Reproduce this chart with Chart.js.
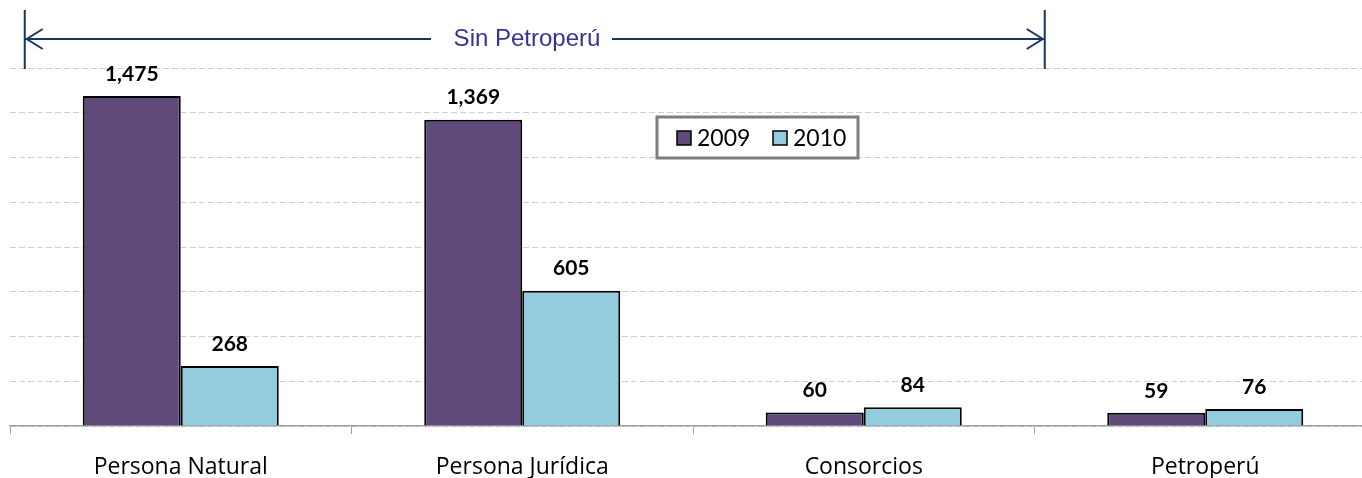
<!DOCTYPE html>
<html>
<head>
<meta charset="utf-8">
<script src="https://cdn.jsdelivr.net/npm/chart.js@4.4.0/dist/chart.umd.min.js"></script>
<style>
  html, body { margin: 0; padding: 0; background: #fff; overflow: hidden; }
  #wrap { width: 1380px; height: 478px; }
</style>
</head>
<body>
<div id="wrap"><canvas id="chart" width="1380" height="478"></canvas></div>
<script>
const categories = ['Persona Natural', 'Persona Jurídica', 'Consorcios', 'Petroperú'];
const values2009 = [1475, 1369, 60, 59];
const values2010 = [268, 605, 84, 76];
const seriesNames = ['2009', '2010'];
const bracketText = 'Sin Petroperú';

const FONT = 'Lato, "Open Sans", sans-serif';

// value labels above bars
const barLabels = {
  id: 'barLabels',
  afterDatasetsDraw(chart) {
    const ctx = chart.ctx;
    ctx.save();
    ctx.font = 'bold 21px ' + FONT;
    ctx.fillStyle = '#000';
    ctx.textAlign = 'center';
    ctx.textBaseline = 'middle';
    chart.data.datasets.forEach((ds, i) => {
      chart.getDatasetMeta(i).data.forEach((bar, j) => {
        ctx.fillText(ds.data[j].toLocaleString('en-US'), bar.x, bar.y - 22);
      });
    });
    ctx.restore();
  }
};

// bracket with arrows + legend box
const extras = {
  id: 'extras',
  afterDraw(chart) {
    const ctx = chart.ctx;
    const x = chart.scales.x;
    const left = x.getPixelForValue(0) - 156;
    const right = x.getPixelForValue(2) + 181;
    const yTop = 10, yBot = 69, yMid = 39;
    ctx.save();
    ctx.strokeStyle = '#17375E';
    ctx.lineWidth = 2;
    ctx.beginPath();
    ctx.moveTo(left, yTop); ctx.lineTo(left, yBot);
    ctx.moveTo(right, yTop); ctx.lineTo(right, yBot);
    ctx.moveTo(left + 1, yMid); ctx.lineTo(431, yMid);
    ctx.moveTo(612, yMid); ctx.lineTo(right - 1, yMid);
    // arrow heads
    ctx.moveTo(left + 18, yMid - 10); ctx.lineTo(left + 2, yMid); ctx.lineTo(left + 18, yMid + 10);
    ctx.moveTo(right - 18, yMid - 10); ctx.lineTo(right - 2, yMid); ctx.lineTo(right - 18, yMid + 10);
    ctx.stroke();
    ctx.font = '24px "Liberation Sans", Arial, sans-serif';
    ctx.fillStyle = '#333399';
    ctx.textAlign = 'center';
    ctx.textBaseline = 'middle';
    ctx.fillText(bracketText, 527, yMid);

    // legend
    ctx.strokeStyle = '#7F7F7F';
    ctx.lineWidth = 3;
    ctx.fillStyle = '#fff';
    ctx.fillRect(657, 117, 201, 41);
    ctx.strokeRect(657, 117, 201, 41);
    ctx.font = '23px ' + FONT;
    ctx.textAlign = 'left';
    ctx.lineWidth = 1.5;
    ctx.strokeStyle = '#000';
    const items = [[677, 697], [773, 793]];
    chart.data.datasets.forEach((ds, i) => {
      ctx.fillStyle = ds.backgroundColor;
      ctx.fillRect(items[i][0], 131, 14, 14);
      ctx.strokeRect(items[i][0], 131, 14, 14);
      ctx.fillStyle = '#000';
      ctx.fillText(seriesNames[i], items[i][1], 139);
    });
    ctx.restore();
  }
};

new Chart(document.getElementById('chart'), {
  type: 'bar',
  data: {
    labels: categories,
    datasets: [
      { label: seriesNames[0], data: values2009, backgroundColor: '#604A7B', borderColor: '#000', borderWidth: 2 },
      { label: seriesNames[1], data: values2010, backgroundColor: '#93CDDD', borderColor: '#000', borderWidth: 2 }
    ]
  },
  plugins: [barLabels, extras],
  options: {
    responsive: false,
    animation: false,
    layout: { padding: { left: 10, right: 4, top: 68, bottom: 0 } },
    datasets: { bar: { categoryPercentage: 0.574, barPercentage: 1 } },
    plugins: { legend: { display: false }, tooltip: { enabled: false }, title: { display: false } },
    scales: {
      x: {
        grid: { display: true, drawOnChartArea: false, offset: true, tickLength: 8, color: '#A0A0A0' },
        border: { display: true, color: '#A0A0A0', width: 1.5 },
        ticks: { color: '#000', font: { family: '"Open Sans", sans-serif', size: 23 }, padding: 20 },
        afterFit(scale) { scale.height = 52; }
      },
      y: {
        min: 0, max: 1600,
        ticks: { display: false, stepSize: 200 },
        grid: { color: '#D0D0D0', lineWidth: 1, drawTicks: false },
        border: { display: false, dash: [6, 3] },
        afterFit(scale) { scale.width = 0; }
      }
    }
  }
});
</script>
</body>
</html>
